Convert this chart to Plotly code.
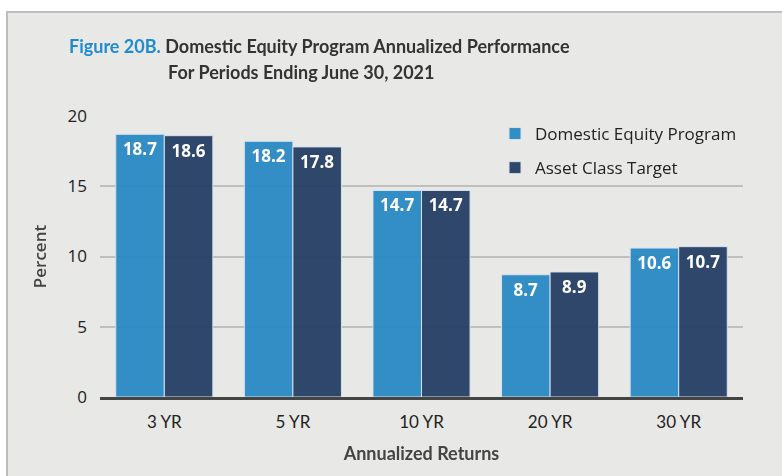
import plotly.graph_objects as go

categories = ["3 YR", "5 YR", "10 YR", "20 YR", "30 YR"]
program = [18.7, 18.2, 14.7, 8.7, 10.6]
target = [18.6, 17.8, 14.7, 8.9, 10.7]
y_ticks = [0, 5, 10, 15, 20]

W, H = 782, 476
L, R, T, B = 100, 39, 116, 79
pw, ph = W - L - R, H - T - B

def px(x):
    return (x - L) / pw

def py(y):
    return (H - B - y) / ph

label_font = dict(color="white", size=17, family="Open Sans", weight="bold")

fig = go.Figure()
fig.add_trace(go.Bar(
    x=categories, y=program, name="Domestic Equity Program", legendgroup="a",
    marker=dict(color="#2b89c5", line=dict(color="#d6e2ec", width=1)),
    text=[f"{v:.1f}" for v in program], textposition="inside",
    insidetextanchor="end", textfont=label_font, opacity=0.95,
))
fig.add_trace(go.Bar(
    x=categories, y=target, name="Asset Class Target", legendgroup="b",
    marker=dict(color="#263f66", line=dict(color="#d6e2ec", width=1)),
    text=[f"{v:.1f}" for v in target], textposition="inside",
    insidetextanchor="end", textfont=label_font, opacity=0.95,
))

fig.update_layout(
    width=W, height=H,
    margin=dict(l=L, r=R, t=T, b=B, autoexpand=False),
    paper_bgcolor="white",
    plot_bgcolor="rgba(0,0,0,0)",
    barmode="group", bargap=0.245, bargroupgap=0.0,
    showlegend=True,
    legend=dict(x=px(495), y=py(116), xanchor="left", yanchor="top",
                bgcolor="rgba(0,0,0,0)", font=dict(size=17, family="Open Sans", color="#222"),
                itemwidth=30, tracegroupgap=9, traceorder="grouped"),
    shapes=[dict(type="rect", xref="paper", yref="paper",
                 x0=px(7), x1=px(800), y0=py(500), y1=py(12),
                 fillcolor="#e8e8e6", line=dict(color="#bdbdbd", width=2), layer="below")],
    annotations=[
        dict(xref="paper", yref="paper", x=px(67), y=py(46), xanchor="left", yanchor="middle",
             text="<b><span style='color:#1f8bd0'>Figure 20B.</span> Domestic Equity Program Annualized Performance</b>",
             showarrow=False, font=dict(size=18, family="Lato", color="#333")),
        dict(xref="paper", yref="paper", x=px(166), y=py(72), xanchor="left", yanchor="middle",
             text="<b>For Periods Ending June 30, 2021</b>",
             showarrow=False, font=dict(size=18, family="Lato", color="#333")),
    ],
)
fig.update_yaxes(range=[0, 20], tickvals=y_ticks, showgrid=True, gridcolor="#bfbfbf", gridwidth=2,
                 zeroline=False, ticks="", ticklabelstandoff=12,
                 tickfont=dict(size=17, family="Open Sans", color="#222"),
                 title=dict(text="Percent", font=dict(size=17, family="Open Sans", color="#444", weight=600), standoff=16))
fig.update_xaxes(showline=True, linecolor="#444", linewidth=3, ticks="", ticklabelstandoff=8,
                 tickfont=dict(size=17, family="Lato", color="#222"),
                 title=dict(text="<b>Annualized Returns</b>", font=dict(size=18, family="Lato", color="#444"), standoff=16))

fig.write_html("out.html", config={"displayModeBar": False},
               post_script="document.body.style.margin='0';")
